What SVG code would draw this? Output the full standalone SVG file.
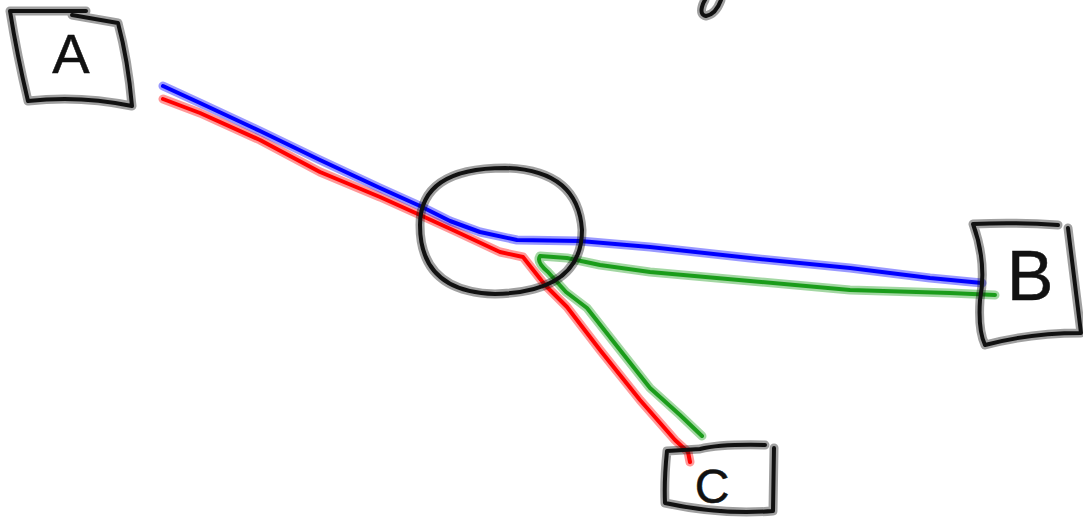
<svg xmlns="http://www.w3.org/2000/svg" width="1083" height="519" viewBox="0 0 1083 519">
<style>
.h{fill:none;stroke-width:9;stroke-opacity:.4;stroke-linecap:round;stroke-linejoin:round}
.c{fill:none;stroke-width:4;stroke-linecap:round;stroke-linejoin:round}
.k{stroke:#111}
.blue{stroke:#0000ff}
.red{stroke:#ff0000}
.green{stroke:#1a9c1a}
.lbl{font-family:"Liberation Sans",Arial,sans-serif;fill:#111;text-anchor:middle;stroke:#111;stroke-width:0.5}
</style>
<defs>
<path id="pA" d="M86,11 L10,11 Q17,55 28,101 Q80,95 132,106 Q128,60 118,23 L72,15"/>
<path id="pB" d="M1058,225 Q1015,222 973,224 Q987,262 980,300 Q978,330 985,345 Q1030,333 1081,333 L1068,228"/>
<path id="pC" d="M765,445 Q720,444 700,449 L667,451 Q664,480 665,503 Q720,515 773,511 L774,448"/>
<path id="pO" d="M420,225 Q420,168 505,168 Q578,170 582,230 Q582,292 495,294 Q420,292 420,225 Z"/>
<path id="pY" d="M721,0 Q716,14 706,16 Q700,15 702,7 Q703,3 705,0"/>
<path id="lB" d="M163,86 L200,103 L260,131 L320,160 L380,188 L420,206 L450,221 L480,232 L517,240 L580,241 L650,247 L750,258 L850,268 L930,278 L982,283"/>
<path id="lR" d="M163,99 L200,113 L260,140 L320,172 L380,197 L420,215 L455,231 L500,252 L523,257 L545,285 L567,307 L600,350 L640,400 L675,440 L688,452 L690,462"/>
<path id="lG" d="M995,295 L950,293 L850,290 L750,281 L650,272 L600,265 L567,258 L540,256 Q536,262 548,272 L566,292 L587,308 L620,350 L650,388 L680,415 L702,436"/>
</defs>
<g id="fragment"><use href="#pY" class="h k"/><use href="#pY" class="c k"/></g>
<g id="connectors">
<use href="#lR" class="h red"/><use href="#lR" class="c red"/>
<use href="#lG" class="h green"/><use href="#lG" class="c green"/>
<use href="#lB" class="h blue"/><use href="#lB" class="c blue"/>
</g>
<g id="hub"><use href="#pO" class="h k"/><use href="#pO" class="c k"/></g>
<g id="nodeA"><use href="#pA" class="h k"/><use href="#pA" class="c k"/><text class="lbl" x="71" y="73" font-size="56">A</text></g>
<g id="nodeB"><use href="#pB" class="h k"/><use href="#pB" class="c k"/><text class="lbl" x="1030" y="300" font-size="70">B</text></g>
<g id="nodeC"><use href="#pC" class="h k"/><use href="#pC" class="c k"/><text class="lbl" x="712" y="503" font-size="48">C</text></g>
</svg>
